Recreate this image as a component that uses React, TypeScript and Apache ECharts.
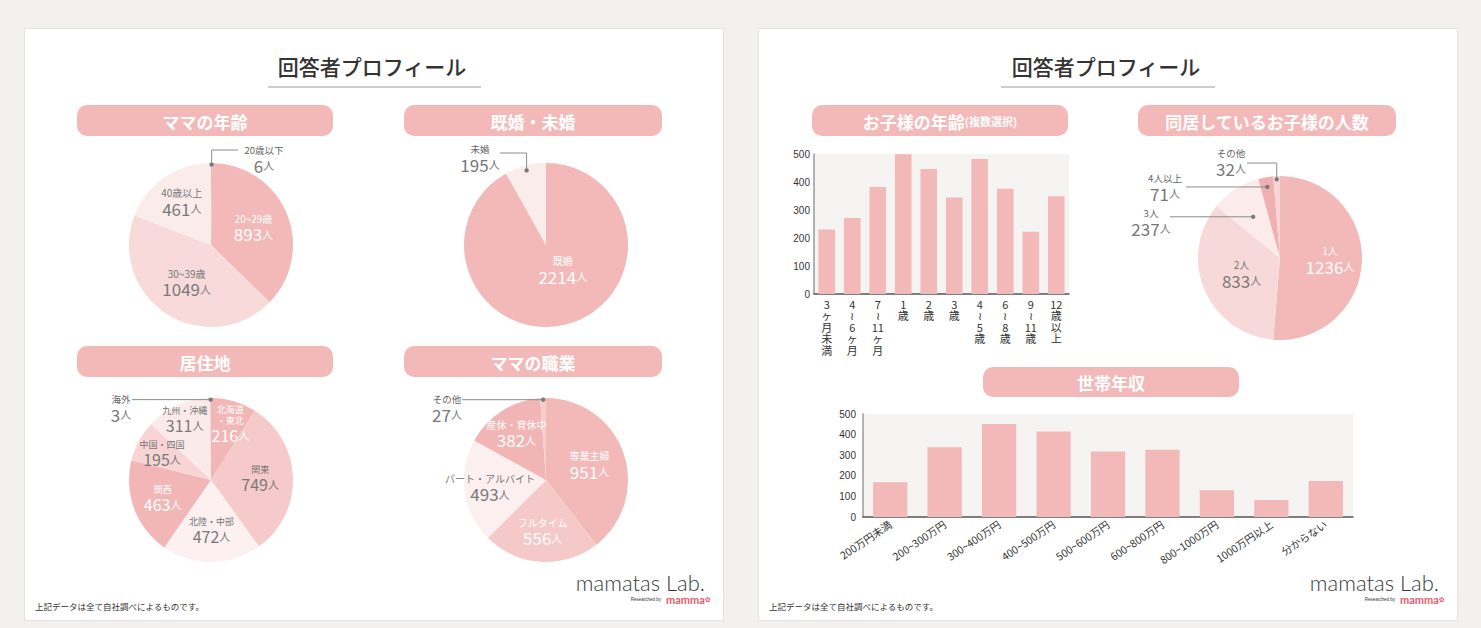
import React, { useEffect, useRef } from "react";
import * as echarts from "echarts";

const FONT = '"Noto Sans CJK JP", "Noto Sans", sans-serif';
const NUMFONT = '"Liberation Sans", "DejaVu Sans", sans-serif';

// ---------- data ----------
const ageNames = ["20歳以下", "20~29歳", "30~39歳", "40歳以上"];
const ageValues = [6, 893, 1049, 461];
const maritalNames = ["既婚", "未婚"];
const maritalValues = [2214, 195];
const regionNames = ["北海道\n・東北", "関東", "北陸・中部", "関西", "中国・四国", "九州・沖縄", "海外"];
const regionValues = [216, 749, 472, 463, 195, 311, 3];
const jobNames = ["専業主婦", "フルタイム", "パート・アルバイト", "産休・育休中", "その他"];
const jobValues = [951, 556, 493, 382, 27];
const childCountNames = ["1人", "2人", "3人", "4人以上", "その他"];
const childCountValues = [1236, 833, 237, 71, 32];
const childAgeLabels = [
  "3\nヶ\n月\n未\n満", "4\n≀\n6\nヶ\n月", "7\n≀\n11\nヶ\n月", "1\n歳", "2\n歳",
  "3\n歳", "4\n≀\n5\n歳", "6\n≀\n8\n歳", "9\n≀\n11\n歳", "12\n歳\n以\n上",
];
const childAgeValues = [230, 271, 382, 499, 446, 345, 482, 376, 222, 349];
const incomeLabels = [
  "200万円未満", "200~300万円", "300~400万円", "400~500万円", "500~600万円",
  "600~800万円", "800~1000万円", "1000万円以上", "分からない",
];
const incomeValues = [169, 338, 452, 415, 318, 327, 130, 83, 175];
const yMin = 0;
const yMax = 500;
const yStep = 100;

// ---------- styling ----------
const PINK = "#f3b9b9";
const W = "#ffffff";
const G = "#7a7a7a";

type Ann = { index: number; dotF: number; elbowY?: number; endX: number; labelX: number; nameY: number };
type PieSpec = {
  names: string[]; values: number[]; colors: string[]; text: string[];
  center: [number, number]; r: number; labelF: number[]; angOff?: number[]; outside: Ann[];
  nameSize?: number; valueSize?: number;
};

const pies: PieSpec[] = [
  {
    names: ageNames, values: ageValues,
    colors: ["#f2b3b3", "#f3b8b8", "#f8dada", "#fbecec"], text: [G, W, G, G],
    center: [211, 245], r: 82, labelF: [0, 0.56, 0.55, 0.63],
    outside: [{ index: 0, dotF: 0.98, elbowY: 150, endX: 238, labelX: 264, nameY: 150 }],
  },
  {
    names: maritalNames, values: maritalValues,
    colors: ["#f3b8b8", "#fbecec"], text: [W, G],
    center: [546, 245], r: 82, labelF: [0.37, 0], angOff: [-19, 0],
    outside: [{ index: 1, dotF: 0.94, elbowY: 153, endX: 500, labelX: 480, nameY: 149 }],
  },
  {
    names: regionNames, values: regionValues,
    colors: ["#f2b6b6", "#f6caca", "#fcf0f0", "#f2b6b6", "#f8d4d4", "#fbeaea", "#f2b6b6"],
    text: [W, G, G, W, G, G, G],
    center: [211, 480], r: 82, labelF: [0.72, 0.6, 0.62, 0.63, 0.68, 0.8, 0],
    angOff: [3, 0, 0, 0, 0, 0, 0],
    nameSize: 9, valueSize: 16,
    outside: [{ index: 6, dotF: 0.98, endX: 132, labelX: 121, nameY: 399 }],
  },
  {
    names: jobNames, values: jobValues,
    colors: ["#f3b8b8", "#f6c9c9", "#fcefef", "#f2b5b5", "#f6cccc"], text: [W, W, G, W, G],
    center: [546, 480], r: 82, labelF: [0.56, 0.63, 0.69, 0.67, 0],
    outside: [{ index: 4, dotF: 0.98, endX: 462, labelX: 447, nameY: 399 }],
  },
  {
    names: childCountNames, values: childCountValues,
    colors: ["#f3b8b8", "#f8d9d9", "#fbebeb", "#f0b0b0", "#f8d4d4"], text: [W, G, G, G, G],
    center: [1280, 258], r: 82, labelF: [0.61, 0.51, 0, 0, 0],
    outside: [
      { index: 4, dotF: 0.96, elbowY: 163, endX: 1247, labelX: 1231, nameY: 153 },
      { index: 3, dotF: 0.88, endX: 1186, labelX: 1165, nameY: 178 },
      { index: 2, dotF: 0.6, endX: 1170, labelX: 1151, nameY: 213 },
    ],
  },
];

const pills = [
  { x: 77, y: 105, w: 256, h: 31, text: "{a|ママの年齢}" },
  { x: 404, y: 105, w: 258, h: 31, text: "{a|既婚・未婚}" },
  { x: 77, y: 346, w: 256, h: 31, text: "{a|居住地}" },
  { x: 404, y: 346, w: 258, h: 31, text: "{a|ママの職業}" },
  { x: 812, y: 105, w: 256, h: 31, text: "{a|お子様の年齢}{b|(複数選択)}" },
  { x: 1138, y: 105, w: 258, h: 31, text: "{a|同居しているお子様の人数}" },
  { x: 983, y: 367, w: 256, h: 30, text: "{a|世帯年収}" },
];

function midAngle(values: number[], idx: number) {
  const total = values.reduce((a, b) => a + b, 0);
  let acc = 0;
  for (let i = 0; i < idx; i++) acc += values[i];
  return ((acc + values[idx] / 2) / total) * Math.PI * 2;
}

function pieSeries(spec: PieSpec) {
  return {
    type: "pie", center: spec.center, radius: [0, spec.r], startAngle: 90, clockwise: true,
    silent: true, label: { show: false }, labelLine: { show: false },
    itemStyle: { borderWidth: 0 },
    data: spec.names.map((n, i) => ({ name: n, value: spec.values[i], itemStyle: { color: spec.colors[i] } })),
  };
}

function insideLabels(spec: PieSpec) {
  const els: any[] = [];
  const [cx, cy] = spec.center;
  const outsideIdx = spec.outside.map((a) => a.index);
  const ns = spec.nameSize || 10;
  const vs = spec.valueSize || 17;
  spec.names.forEach((n, i) => {
    if (outsideIdx.includes(i)) return;
    const ang = midAngle(spec.values, i) + ((spec.angOff ? spec.angOff[i] : 0) * Math.PI) / 180;
    const d = spec.labelF[i] * spec.r;
    const x = cx + d * Math.sin(ang);
    const y = cy - d * Math.cos(ang);
    const c = spec.text[i];
    const nc = c === W ? W : "#777";
    els.push({
      type: "text", z: 50, x, y,
      style: {
        text: `{n|${n}}\n{v|${spec.values[i]}}{u|人}`,
        align: "center", verticalAlign: "middle",
        rich: {
          n: { fontSize: ns, fill: nc, lineHeight: ns + 2, fontFamily: FONT },
          v: { fontSize: vs, fill: c, lineHeight: vs + 2, fontFamily: FONT },
          u: { fontSize: 11, fill: c, lineHeight: vs + 2, fontFamily: FONT },
        },
      },
    });
  });
  return els;
}

function annotations(spec: PieSpec) {
  const els: any[] = [];
  const [cx, cy] = spec.center;
  spec.outside.forEach((a) => {
    const ang = midAngle(spec.values, a.index);
    const dx = cx + a.dotF * spec.r * Math.sin(ang);
    const dy = cy - a.dotF * spec.r * Math.cos(ang);
    const pts = a.elbowY !== undefined
      ? [[dx, dy], [dx, a.elbowY], [a.endX, a.elbowY]]
      : [[dx, dy], [a.endX, dy]];
    els.push({ type: "polyline", z: 100, shape: { points: pts }, style: { stroke: "#8c8c8c", lineWidth: 1, fill: null } });
    els.push({ type: "circle", z: 101, shape: { cx: dx, cy: dy, r: 2.2 }, style: { fill: "#7a7a7a" } });
    els.push({
      type: "text", z: 101, x: a.labelX, y: a.nameY - 6,
      style: {
        text: `{n|${spec.names[a.index]}}\n{v|${spec.values[a.index]}}{u|人}`,
        align: "center", verticalAlign: "top",
        rich: {
          n: { fontSize: 9.5, fill: "#666", lineHeight: 12, fontFamily: FONT },
          v: { fontSize: 17, fill: "#777", lineHeight: 18, fontFamily: FONT },
          u: { fontSize: 11, fill: "#777", lineHeight: 18, fontFamily: FONT },
        },
      },
    });
  });
  return els;
}

function buildOption() {
  const graphics: any[] = [];
  // titles
  [
    { cx: 372, x1: 268, x2: 481 },
    { cx: 1106, x1: 1001, x2: 1215 },
  ].forEach((t) => {
    graphics.push({
      type: "text", x: t.cx, y: 66,
      style: { text: "回答者プロフィール", fontSize: 21, fontFamily: FONT, fontWeight: 500, fill: "#333", align: "center", verticalAlign: "middle" },
    });
    graphics.push({ type: "line", shape: { x1: t.x1, y1: 87, x2: t.x2, y2: 87 }, style: { stroke: "#9a9a9a", lineWidth: 1 } });
  });
  // pills
  pills.forEach((p) => {
    graphics.push({ type: "rect", shape: { x: p.x, y: p.y, width: p.w, height: p.h, r: 10 }, style: { fill: PINK } });
    graphics.push({
      type: "text", x: p.x + p.w / 2, y: p.y + p.h / 2 + 0.5,
      style: {
        text: p.text, align: "center", verticalAlign: "middle",
        rich: {
          a: { fontSize: 17, fill: "#fff", fontFamily: FONT, fontWeight: "bold" },
          b: { fontSize: 11, fill: "#fff", fontFamily: FONT, fontWeight: "bold" },
        },
      },
    });
  });
  // pie labels & annotations
  pies.forEach((s) => {
    graphics.push(...insideLabels(s));
    graphics.push(...annotations(s));
  });
  // footers & logos
  [
    { fx: 35, lx: 705 },
    { fx: 769, lx: 1439 },
  ].forEach((f) => {
    graphics.push({
      type: "text", x: f.fx, y: 606,
      style: { text: "上記データは全て自社調べによるものです。", fontSize: 8.5, fontFamily: FONT, fill: "#333", verticalAlign: "middle" },
    });
    graphics.push({
      type: "text", x: f.lx, y: 593,
      style: { text: "mamatas Lab.", fontSize: 22, fontFamily: "Lato, sans-serif", fontWeight: 300, fill: "#3a3a3a", align: "right", verticalAlign: "bottom", lineHeight: 22 },
    });
    graphics.push({
      type: "text", x: f.lx - 44, y: 599,
      style: { text: "Researched by", fontSize: 4.5, fontFamily: NUMFONT, fill: "#333", align: "right", verticalAlign: "middle" },
    });
    graphics.push({
      type: "text", x: f.lx - 39, y: 599.5,
      style: {
        text: "{m|mamma}{f|✿}", verticalAlign: "middle",
        rich: {
          m: { fontSize: 11, fill: "#ea5a6c", fontFamily: "Lato, sans-serif", fontWeight: "bold", lineHeight: 11 },
          f: { fontSize: 7, fill: "#ea5a6c", fontFamily: '"DejaVu Sans", sans-serif', lineHeight: 11 },
        },
      },
    });
  });

  const series: any[] = [];
  pies.forEach((p) => series.push(pieSeries(p)));

  const yAxisCommon = {
    type: "value", min: yMin, max: yMax, interval: yStep,
    splitLine: { show: false }, axisTick: { show: false },
    axisLine: { show: true, lineStyle: { color: "#9a9a9a", width: 1.5 } },
  };

  series.push({
    type: "bar", xAxisIndex: 0, yAxisIndex: 0, data: childAgeValues, barWidth: "65%",
    itemStyle: { color: "#f3b8b8" }, silent: true,
  });
  series.push({
    type: "bar", xAxisIndex: 1, yAxisIndex: 1, data: incomeValues, barWidth: "63%",
    itemStyle: { color: "#f3b8b8" }, silent: true,
  });

  return {
    animation: false,
    backgroundColor: "transparent",
    textStyle: { fontFamily: FONT },
    grid: [
      { left: 814, top: 154, width: 255, height: 140, show: true, backgroundColor: "#f5f4f2", borderWidth: 0, outerBoundsMode: "none" },
      { left: 863, top: 414, width: 490, height: 103, show: true, backgroundColor: "#f5f4f2", borderWidth: 0, outerBoundsMode: "none" },
    ],
    xAxis: [
      {
        gridIndex: 0, type: "category", data: childAgeLabels,
        axisTick: { show: false },
        axisLine: { lineStyle: { color: "#555", width: 1.5 } },
        axisLabel: { interval: 0, fontSize: 11, lineHeight: 11.5, color: "#333", margin: 4, fontFamily: FONT },
      },
      {
        gridIndex: 1, type: "category", data: incomeLabels,
        axisTick: { show: false },
        axisLine: { lineStyle: { color: "#555", width: 1.5 } },
        axisLabel: { interval: 0, rotate: 34, fontSize: 10.5, color: "#333", margin: 6, fontFamily: FONT },
      },
    ],
    yAxis: [
      { ...yAxisCommon, gridIndex: 0, axisLabel: { fontSize: 10, color: "#333", margin: 4, fontFamily: NUMFONT } },
      { ...yAxisCommon, gridIndex: 1, axisLabel: { fontSize: 10, color: "#333", margin: 7, fontFamily: NUMFONT } },
    ],
    graphic: { elements: graphics },
    series,
  };
}

export default function App() {
  const ref = useRef<HTMLDivElement>(null);
  useEffect(() => {
    if (!ref.current) return;
    const chart = echarts.init(ref.current, null, { renderer: "svg", width: 1481, height: 628 });
    chart.setOption(buildOption() as any);
    return () => chart.dispose();
  }, []);
  const panel = (left: number): React.CSSProperties => ({
    position: "absolute", left, top: 28, width: 700, height: 593,
    background: "#fff", border: "1px solid #e3e3e3", boxSizing: "border-box",
  });
  return (
    <div style={{ position: "fixed", left: 0, top: 0, width: 1481, height: 628, background: "#f2f1ef", overflow: "hidden" }}>
      <div style={panel(24)} />
      <div style={panel(758)} />
      <div ref={ref} style={{ position: "absolute", left: 0, top: 0, width: 1481, height: 628 }} />
    </div>
  );
}
